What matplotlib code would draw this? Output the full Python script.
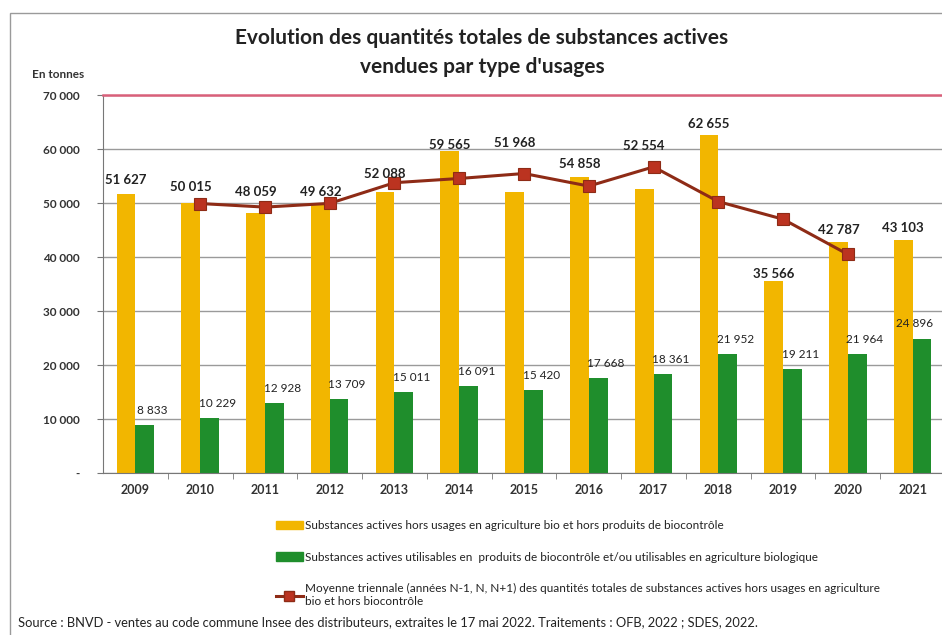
import matplotlib
matplotlib.use("Agg")
import matplotlib.pyplot as plt
from matplotlib.lines import Line2D
from matplotlib.patches import Rectangle

plt.rcParams['font.family'] = ['Lato', 'DejaVu Sans']

years = ["2009", "2010", "2011", "2012", "2013", "2014", "2015",
         "2016", "2017", "2018", "2019", "2020", "2021"]
hors_bio = [51627, 50015, 48059, 49632, 52088, 59565, 51968,
            54858, 52554, 62655, 35566, 42787, 43103]
biocontrole = [8833, 10229, 12928, 13709, 15011, 16091, 15420,
               17668, 18361, 21952, 19211, 21964, 24896]
# three-year moving average, available from 2010 to 2020
moyenne_years = years[1:12]
moyenne = [49900, 49240, 49930, 53760, 54540, 55460,
           53130, 56690, 50260, 47000, 40490]

# vertical lift of the yellow value labels above their bars (tonnes)
label_lift = [2600, 2900, 4000, 2400, 3300, 1200, 9100,
              2400, 8000, 2000, 1300, 2200, 2300]
# horizontal shift of the green value labels (category units)
green_shift = [0.12] * 12 + [-0.12]

YELLOW = "#F2B600"
GREEN = "#1F8E2C"
LINE = "#8E2B16"
MARK = "#BB3320"


def fmt(v):
    return f"{v:,}".replace(",", " ")


fig = plt.figure(figsize=(9.42, 6.35), dpi=100)
W, H = 942, 635

# frame around the chart area
fig.patches.append(Rectangle((10 / W, -0.01), 1.0, 1 - 13 / H + 0.01,
                             transform=fig.transFigure, fill=False,
                             edgecolor="#9a9a9a", linewidth=1.0))

ax = fig.add_axes([103 / W, 1 - 473 / H, (945 - 103) / W, (473 - 95) / H])
x = list(range(len(years)))
bw = 0.29
ax.bar([i - bw / 2 for i in x], hors_bio, width=bw, color=YELLOW, zorder=2)
ax.bar([i + bw / 2 for i in x], biocontrole, width=bw, color=GREEN, zorder=2)
mx = [years.index(y) for y in moyenne_years]
ax.plot(mx, moyenne, color=LINE, linewidth=2.2, marker="s", markersize=8,
        markerfacecolor=MARK, markeredgecolor=LINE, markeredgewidth=0.8,
        zorder=4)

for i, (v, lift) in enumerate(zip(hors_bio, label_lift)):
    ax.text(i - bw / 2, v + lift, fmt(v), ha="center", va="center",
            fontsize=9.5, fontweight="bold", color="#222222", zorder=5)
for i, (v, dx) in enumerate(zip(biocontrole, green_shift)):
    ax.text(i + bw / 2 + dx, v + 2700, fmt(v), ha="center", va="center",
            fontsize=8.5, color="#222222", zorder=5)

ax.set_xlim(-0.5, len(years) - 0.5)
ax.set_ylim(0, 70000)
yt = list(range(0, 70001, 10000))
ax.set_yticks(yt)
ax.set_yticklabels(["-"] + [fmt(t) for t in yt[1:]], fontsize=8.5,
                   fontweight="bold", color="#333333")
ax.set_xticks(x)
ax.set_xticklabels(years, fontsize=9, fontweight="bold", color="#333333")
ax.tick_params(axis="x", length=0, pad=8)
ax.tick_params(axis="y", length=4, color="#777777", pad=13)
ax.set_xticks([i + 0.5 for i in x[:-1]], minor=True)
ax.tick_params(axis="x", which="minor", length=4, color="#777777",
               direction="out")

ax.grid(axis="y", color="#9a9a9a", linewidth=1.0, zorder=0)
for s in ["top", "right"]:
    ax.spines[s].set_visible(False)
ax.spines["left"].set_color("#777777")
ax.spines["bottom"].set_color("#777777")
ax.axhline(70000, color="#D9607A", linewidth=1.8, zorder=3, clip_on=False)

fig.text(482 / W, 1 - 38 / H,
         "Evolution des quantités totales de substances actives",
         ha="center", va="center", fontsize=15, fontweight="bold",
         color="#222222")
fig.text(482 / W, 1 - 67 / H, "vendues par type d'usages",
         ha="center", va="center", fontsize=15, fontweight="bold",
         color="#222222")
fig.text(58 / W, 1 - 74 / H, "En tonnes", ha="center", va="center",
         fontsize=8.5, fontweight="bold", color="#333333")

# legend
handles = [
    Rectangle((0, 0), 1, 1, color=YELLOW),
    Rectangle((0, 0), 1, 1, color=GREEN),
    Line2D([0], [0], color=LINE, linewidth=2.2, marker="s", markersize=7,
           markerfacecolor=MARK, markeredgecolor=LINE),
]
labels = [
    "Substances actives hors usages en agriculture bio et hors produits de biocontrôle",
    "Substances actives utilisables en  produits de biocontrôle et/ou utilisables en agriculture biologique",
    "Moyenne triennale (années N-1, N, N+1) des quantités totales de substances actives hors usages en agriculture\nbio et hors biocontrôle",
]
fig.legend(handles, labels, loc="upper left",
           bbox_to_anchor=(270 / W, 1 - 514 / H), frameon=False,
           fontsize=8.5, handlelength=2.3, handletextpad=0.2,
           labelspacing=1.75, borderpad=0, labelcolor="#222222")

fig.text(18 / W, 1 - 622 / H,
         "Source : BNVD - ventes au code commune Insee des distributeurs, extraites le 17 mai 2022. Traitements : OFB, 2022 ; SDES, 2022.",
         ha="left", va="center", fontsize=9.3, color="#222222")

fig.savefig("out.png", dpi=100)
